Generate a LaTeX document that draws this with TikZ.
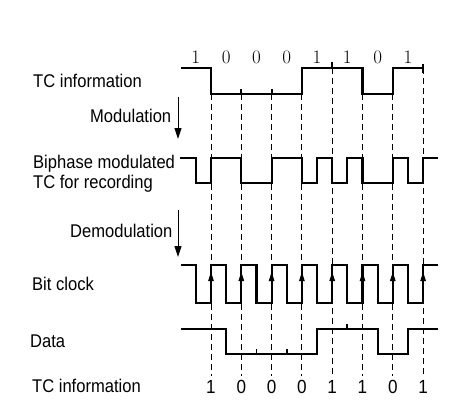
\documentclass[tikz,border=0pt]{standalone}
\usepackage{fontspec}
\newfontfamily\labfont[FakeStretch=0.9]{Liberation Sans}
\usetikzlibrary{arrows.meta}
\begin{document}
\begin{tikzpicture}[x=1pt,y=-1pt,
  sig/.style={line width=2.2pt, line join=miter},
  gridline/.style={line width=1pt, dash pattern=on 6pt off 4pt},
  tickmark/.style={line width=1.8pt},
  lab/.style={anchor=base west, inner sep=0pt, font=\labfont\fontsize{18.4}{22}\selectfont},
  topdig/.style={anchor=base, inner sep=0pt, font=\rmfamily\fontsize{19}{22}\selectfont},
  botdig/.style={anchor=base, inner sep=0pt, font=\labfont\fontsize{19}{22}\selectfont},
  flowarrow/.style={line width=1pt, -{Triangle[length=11pt,width=7pt]}},
  clockarrow/.style={line width=1pt, -{Triangle[length=9pt,width=5.5pt]}}]
\useasboundingbox (0,0) rectangle (459,408);
\fill[white] (0,0) rectangle (459,408);

% labels
\node[lab] (tc1) at (33,87) {TC information};
\node[lab] (mod) at (90,122) {Modulation};
\node[lab] (bip1) at (33,168) {Biphase modulated};
\node[lab] (bip2) at (33,188) {TC for recording};
\node[lab] (demod) at (70,237) {Demodulation};
\node[lab] (bclk) at (32,290) {Bit clock};
\node[lab] (data) at (30,347) {Data};
\node[lab] (tc2) at (32,392) {TC information};

% flow arrows
\coordinate (ma) at (178,97);
\coordinate (mb) at (178,139);
\coordinate (da) at (178,210);
\coordinate (db) at (178,257);
\draw[flowarrow] (ma) -- (mb);
\draw[flowarrow] (da) -- (db);

% dashed reference lines
\foreach \i/\yt in {0/94,1/94,2/94,3/94,4/68,5/94,6/94,7/68} {
  \pgfmathsetmacro{\xx}{211+30.3*\i}
  \draw[gridline] (\xx,\yt) -- (\xx,376);
}

% top digits and bottom digits
\foreach \b [count=\k from 0] in {1,0,0,0,1,1,0,1} {
  \pgfmathsetmacro{\xc}{195.85+30.3*\k}
  \pgfmathsetmacro{\xd}{211+30.3*\k}
  \node[topdig] (t\k) at (\xc,63) {\b};
  \node[botdig] (b\k) at (\xd,393) {\b};
}

% TC information waveform
\draw[sig] (181,68) -- (211,68) -- (211,94) -- (301.9,94) -- (301.9,68) -- (362.5,68)
  -- (362.5,94) -- (392.8,94) -- (392.8,68) -- (423.1,68);
\draw[tickmark] (241.3,89) -- (241.3,94);
\draw[tickmark] (271.6,89) -- (271.6,94);
\draw[tickmark] (332.2,62) -- (332.2,68);
\draw[line width=2.6pt] (423.1,64) -- (423.1,73);

% Biphase waveform
\draw[sig] (180,158) -- (195.85,158) -- (195.85,183) -- (211,183) -- (211,158)
  -- (241.3,158) -- (241.3,183) -- (271.6,183) -- (271.6,158) -- (301.9,158)
  -- (301.9,183) -- (317.05,183) -- (317.05,158) -- (332.2,158) -- (332.2,183)
  -- (347.35,183) -- (347.35,158) -- (362.5,158) -- (362.5,183) -- (392.8,183)
  -- (392.8,158) -- (407.95,158) -- (407.95,183) -- (423.1,183) -- (423.1,158)
  -- (438,158);

% Bit clock waveform
\draw[sig] (181,265) -- (195.85,265) -- (195.85,303) -- (211,303)
  -- (211,265) -- (226.15,265) -- (226.15,303) -- (241.3,303)
  -- (241.3,265) -- (256.45,265) -- (256.45,303) -- (271.6,303)
  -- (271.6,265) -- (286.75,265) -- (286.75,303) -- (301.9,303)
  -- (301.9,265) -- (317.05,265) -- (317.05,303) -- (332.2,303)
  -- (332.2,265) -- (347.35,265) -- (347.35,303) -- (362.5,303)
  -- (362.5,265) -- (377.65,265) -- (377.65,303) -- (392.8,303)
  -- (392.8,265) -- (407.95,265) -- (407.95,303) -- (423.1,303)
  -- (423.1,265) -- (438,265);
\foreach \i in {0,...,7} {
  \pgfmathsetmacro{\xx}{211+30.3*\i}
  \draw[clockarrow] (\xx,292) -- (\xx,272);
}

% Data waveform
\draw[sig] (181,329) -- (226.15,329) -- (226.15,354) -- (317.05,354) -- (317.05,329)
  -- (377.65,329) -- (377.65,354) -- (407.95,354) -- (407.95,329) -- (438,329);
\draw[tickmark] (256.45,349) -- (256.45,354);
\draw[tickmark] (286.75,349) -- (286.75,354);
\draw[tickmark] (347.35,324) -- (347.35,329);
\end{tikzpicture}
\end{document}
